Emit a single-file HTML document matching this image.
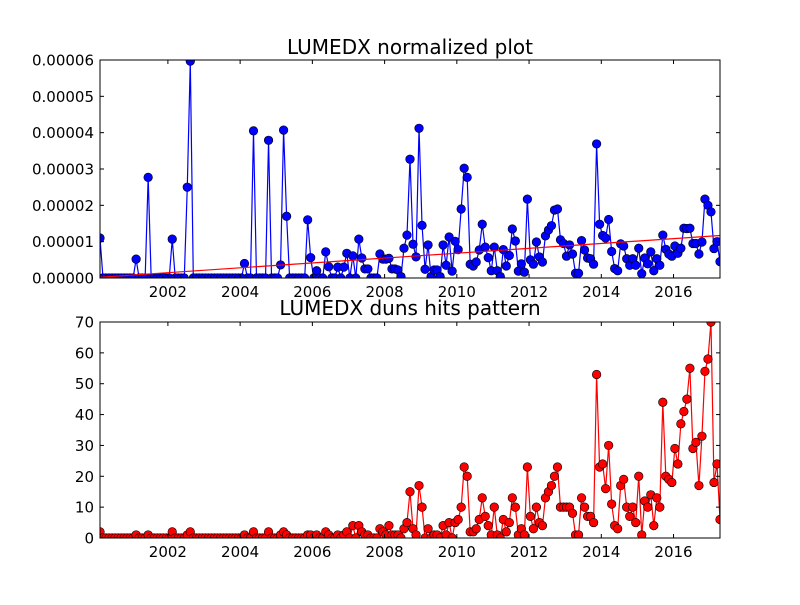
<!DOCTYPE html>
<html><head><meta charset="utf-8"><style>
body{margin:0;background:#fff;}
svg text{font-family:"DejaVu Sans","Liberation Sans",sans-serif;}
</style></head><body>
<svg id="chart" width="800" height="600" xmlns="http://www.w3.org/2000/svg">
<rect width="800" height="600" fill="#fff"/>
<defs>
<clipPath id="c1"><rect x="100" y="60" width="620" height="218"/></clipPath>
<clipPath id="c2"><rect x="100" y="322" width="620" height="216"/></clipPath>
</defs>
<text x="410" y="54" font-size="20" text-anchor="middle">LUMEDX normalized plot</text>
<text x="410" y="315" font-size="20" text-anchor="middle">LUMEDX duns hits pattern</text>
<g id="g1"></g>
<g id="g2"></g>
</svg>
<script>
const normValues = [1.1,0,0,0,0,0,0,0,0,0,
0,0,0.52,0,0,0,2.77,0,0,0,
0,0,0,0,1.07,0,0,0,0,2.5,
5.97,0,0,0,0,0,0,0,0,0,
0,0,0,0,0,0,0,0,0.4,0,
0,4.05,0,0,0,0,3.79,0,0,0,
0.36,4.07,1.7,0,0,0,0,0,0,1.6,
0.56,0,0.2,0,0,0.72,0.31,0,0,0.3,
0,0.3,0.68,0,0.61,0,1.07,0.55,0.25,0.25,
0,0,0,0.66,0.52,0.52,0.54,0.25,0.25,0.22,
0.04,0.82,1.18,3.27,0.93,0.58,4.12,1.45,0.24,0.91,
0.04,0.22,0.22,0.04,0.91,0.35,1.13,0.19,1.01,0.78,
1.9,3.02,2.77,0.38,0.33,0.44,0.77,1.48,0.85,0.56,
0.2,0.85,0.2,0.04,0.78,0.33,0.62,1.35,1.02,0.19,
0.39,0.16,2.17,0.5,0.38,0.99,0.58,0.44,1.16,1.32,
1.44,1.87,1.9,1.05,0.95,0.6,0.91,0.66,0.13,0.13,
1.03,0.77,0.55,0.53,0.38,3.69,1.48,1.17,1.1,1.61,
0.73,0.26,0.2,0.94,0.88,0.53,0.35,0.53,0.35,0.82,
0.12,0.55,0.39,0.72,0.2,0.53,0.35,1.18,0.79,0.66,
0.6,0.88,0.68,0.82,1.37,1.36,1.37,0.95,0.95,0.66,
0.99,2.17,2.0,1.82,0.81,1.0,0.45];
const hitValues = [2,0,0,0,0,0,0,0,0,0,
0,0,1,0,0,0,1,0,0,0,
0,0,0,0,2,0,0,0,0,1,
2,0,0,0,0,0,0,0,0,0,
0,0,0,0,0,0,0,0,1,0,
0,2,0,0,0,0,2,0,0,0,
1,2,1,0,0,0,0,0,0,1,
1,0,1,0,0,2,1,0,0,1,
0,1,2,0,4,0,4,2,1,1,
0,0,0,3,2,1,4,1,1,1,
0,3,5,15,3,1,17,10,0,3,
0,1,1,0,4,1,5,0,5,6,
10,23,20,2,2,3,6,13,7,4,
1,10,1,0,6,2,5,13,10,1,
3,1,23,7,3,10,5,4,13,15,
17,20,23,10,10,10,10,8,1,1,
13,10,7,7,5,53,23,24,16,30,
11,4,3,17,19,10,7,10,5,20,
1,12,10,14,4,13,10,44,20,19,
18,29,24,37,41,45,55,29,31,17,
33,54,58,70,18,24,6];
const trendValues = [0.02, 1.17];
const xTickYears = [2002,2004,2006,2008,2010,2012,2014,2016];
const topTickLabels = ["0.00000","0.00001","0.00002","0.00003","0.00004","0.00005","0.00006"];
const bottomTickLabels = ["0","10","20","30","40","50","60","70"];
const startYear = 2000.12;

const NS="http://www.w3.org/2000/svg";
function mk(tag, attrs, parent){const e=document.createElementNS(NS,tag);for(const k in attrs)e.setAttribute(k,attrs[k]);parent.appendChild(e);return e;}
const x0=100,x1=720;
const N=hitValues.length;
function xIdx(i){return x0+(x1-x0)*i/(N-1);}
function xYear(y){return xIdx((y-startYear)*12);}
function yTop(v){return 278-(278-60)*v/6;}
function yBot(v){return 538-(538-322)*v/70;}

function axes(g,top,bottom,yScale,labels,step,name){
  xTickYears.forEach(yr=>{
    const x=xYear(yr);
    const t1=mk('line',{x1:x,x2:x,y1:bottom,y2:bottom-4,stroke:'#000','stroke-width':1},g);
    
    
    mk('line',{x1:x,x2:x,y1:top,y2:top+4,stroke:'#000','stroke-width':1},g);
    const t=mk('text',{x:x,y:bottom+19,'font-size':15,'text-anchor':'middle'},g);
    t.textContent=yr;
    
    
  });
  labels.forEach((lab,k)=>{
    const y=yScale(k*step);
    mk('line',{x1:x0,x2:x0+4,y1:y,y2:y,stroke:'#000','stroke-width':1},g);
    mk('line',{x1:x1,x2:x1-4,y1:y,y2:y,stroke:'#000','stroke-width':1},g);
    const t=mk('text',{x:x0-6,y:y+5.5,'font-size':15,'text-anchor':'end'},g);
    t.textContent=lab;
    
    
  });
}

function series(g,vals,yScale,color,clip,name){
  const cg=mk('g',{'clip-path':'url(#'+clip+')'},g);
  const pts=vals.map((v,i)=>xIdx(i).toFixed(2)+','+yScale(v).toFixed(2)).join(' ');
  const pl=mk('polyline',{points:pts,fill:'none',stroke:color,'stroke-width':1.2},cg);
  
  
  vals.forEach((v,i)=>{
    const c=mk('circle',{cx:xIdx(i),cy:yScale(v),r:4.3,fill:color,stroke:'#000','stroke-width':0.6},cg);
    
    
  });
  return cg;
}

const g1=document.getElementById('g1');
const cg1=series(g1,normValues,yTop,'#0000ff','c1','normalized');
const tr=mk('line',{x1:xIdx(0),y1:yTop(trendValues[0]),x2:xIdx(N-1),y2:yTop(trendValues[1]),stroke:'#ff0000','stroke-width':1.2},cg1);


const f1=mk('rect',{x:100,y:60,width:620,height:218,fill:'none',stroke:'#000','stroke-width':1},g1);


axes(g1,60,278,yTop,topTickLabels,1,'top');

const g2=document.getElementById('g2');
series(g2,hitValues,yBot,'#ff0000','c2','hits');
const f2=mk('rect',{x:100,y:322,width:620,height:216,fill:'none',stroke:'#000','stroke-width':1},g2);


axes(g2,322,538,yBot,bottomTickLabels,10,'bottom');
</script>
</body></html>
